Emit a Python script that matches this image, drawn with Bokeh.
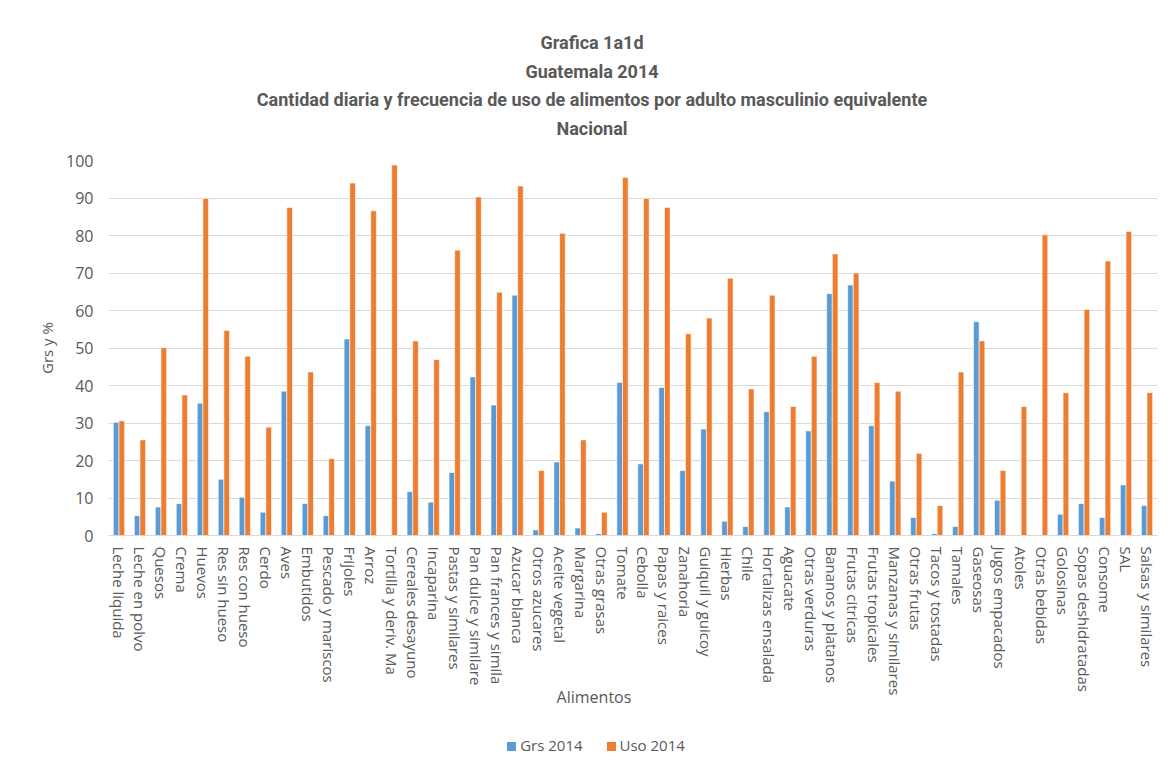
from bokeh.plotting import figure
from bokeh.layouts import column
from bokeh.models import ColumnDataSource, FactorRange, Range1d, FixedTicker, Div
from bokeh.transform import dodge
from bokeh.embed import file_html
from bokeh.resources import INLINE

# Alimentos del módulo de consumo, Guatemala 2014
alimentos = [
    "Leche liquida", "Leche en polvo", "Quesos", "Crema", "Huevos",
    "Res sin hueso", "Res con hueso", "Cerdo", "Aves", "Embutidos",
    "Pescado y mariscos", "Frijoles", "Arroz", "Tortilla y deriv. Ma",
    "Cereales desayuno", "Incaparina", "Pastas y similares",
    "Pan dulce y similare", "Pan frances y simila", "Azucar blanca",
    "Otros azucares", "Aceite vegetal", "Margarina", "Otras grasas",
    "Tomate", "Cebolla", "Papas y raices", "Zanahoria", "Guiquil y guicoy",
    "Hierbas", "Chile", "Hortalizas ensalada", "Aguacate", "Otras verduras",
    "Bananos y platanos", "Frutas citricas", "Frutas tropicales",
    "Manzanas y similares", "Otras frutas", "Tacos y tostadas", "Tamales",
    "Gaseosas", "Jugos empacados", "Atoles", "Otras bebidas", "Golosinas",
    "Sopas deshidratadas", "Consome", "SAL", "Salsas y similares",
]

# Gramos diarios por adulto masculino equivalente
grs_2014 = [
    30.2, 5.3, 7.6, 8.5, 35.3, 15.0, 10.2, 6.2, 38.5, 8.5,
    5.3, 52.4, 29.3, 0.0, 11.7, 8.9, 16.8, 42.3, 34.8, 64.1,
    1.5, 19.6, 2.0, 0.5, 40.8, 19.1, 39.5, 17.3, 28.4, 3.8,
    2.4, 33.0, 7.6, 27.9, 64.5, 66.8, 29.3, 14.5, 4.8, 0.5,
    2.4, 57.0, 9.4, 0.0, 0.0, 5.7, 8.5, 4.8, 13.5, 8.0,
]

# Porcentaje de hogares que usan el alimento
uso_2014 = [
    30.6, 25.5, 50.1, 37.5, 89.9, 54.7, 47.8, 28.9, 87.5, 43.6,
    20.5, 94.0, 86.6, 98.8, 51.9, 46.9, 76.1, 90.3, 64.9, 93.2,
    17.3, 80.6, 25.5, 6.2, 95.5, 89.9, 87.5, 53.8, 58.0, 68.6,
    39.1, 64.1, 34.4, 47.8, 75.1, 70.0, 40.8, 38.5, 21.9, 8.0,
    43.6, 51.9, 17.3, 34.4, 80.2, 38.1, 60.3, 73.2, 81.1, 38.1,
]

series = ["Grs 2014", "Uso 2014"]
y_ticks = [0, 10, 20, 30, 40, 50, 60, 70, 80, 90, 100]

titulo = [
    "Grafica 1a1d",
    "Guatemala 2014",
    "Cantidad diaria y frecuencia de uso de alimentos por adulto masculinio equivalente",
    "Nacional",
]
eje_x = "Alimentos"
eje_y = "Grs y %"

AZUL = "#5B9BD5"
NARANJA = "#ED7D31"
GRIS = "#595959"
TEXT_FONT = "Open Sans"
TITLE_FONT = "Roboto"
W = 1171

src = ColumnDataSource(dict(alimento=alimentos, grs=grs_2014, uso=uso_2014))

# ---- title block -------------------------------------------------------
title_html = (
    f"<div style='width:{W}px;box-sizing:border-box;padding:29px 0 0 13px;"
    f"text-align:center;font-family:{TITLE_FONT};font-weight:bold;"
    f"font-size:18px;line-height:28.5px;color:{GRIS};white-space:nowrap;'>"
    + "<br>".join(titulo) + "</div>"
)
header = Div(text=title_html, width=W, height=150, margin=(0, 0, 0, 0))

# ---- chart -------------------------------------------------------------
p = figure(
    width=W, height=548,
    x_range=FactorRange(*alimentos), y_range=Range1d(0, 100),
    output_backend="svg", toolbar_location=None,
    min_border_left=108, min_border_right=14,
    min_border_top=10, min_border_bottom=162,
    margin=(0, 0, 0, 0),
)
p.outline_line_color = None
p.background_fill_color = "white"
p.border_fill_color = "white"

p.vbar(x=dodge("alimento", -0.135, range=p.x_range), top="grs",
       width=0.27, source=src, fill_color=AZUL,
       line_color="white", line_width=0.6)
p.vbar(x=dodge("alimento", 0.135, range=p.x_range), top="uso",
       width=0.27, source=src, fill_color=NARANJA,
       line_color="white", line_width=0.6)

p.xgrid.grid_line_color = None
p.ygrid.grid_line_color = "#D9D9D9"
p.ygrid.grid_line_width = 1

p.yaxis.ticker = FixedTicker(ticks=y_ticks)
p.yaxis.axis_line_color = None
p.yaxis.major_tick_line_color = None
p.yaxis.minor_tick_line_color = None
p.yaxis.major_tick_out = 0
p.yaxis.major_tick_in = 0
p.yaxis.major_label_standoff = 15
p.yaxis.major_label_text_font = TEXT_FONT
p.yaxis.major_label_text_font_size = "16px"
p.yaxis.major_label_text_color = GRIS
p.yaxis.axis_label = eje_y
p.yaxis.axis_label_text_font = TEXT_FONT
p.yaxis.axis_label_text_font_style = "normal"
p.yaxis.axis_label_text_font_size = "15px"
p.yaxis.axis_label_text_color = GRIS
p.yaxis.axis_label_standoff = 6

p.xaxis.axis_line_color = "#D9D9D9"
p.xaxis.major_tick_line_color = None
p.xaxis.minor_tick_line_color = None
p.xaxis.major_tick_out = 0
p.xaxis.major_tick_in = 0
p.xaxis.major_label_standoff = 11
p.xaxis.major_label_orientation = "vertical"
p.xaxis.major_label_text_font = TEXT_FONT
p.xaxis.major_label_text_font_size = "15px"
p.xaxis.major_label_text_color = GRIS

# ---- axis title and legend ---------------------------------------------
def swatch(color, label):
    return (
        f"<span style='display:inline-block;width:9px;height:9px;"
        f"background:{color};margin-right:4px;vertical-align:0px;'></span>"
        f"<span>{label}</span>"
    )

footer_html = (
    f"<div style='width:{W}px;box-sizing:border-box;padding-left:17px;"
    f"margin-top:-12px;text-align:center;font-family:{TEXT_FONT};"
    f"font-size:16px;line-height:22px;color:{GRIS};'>{eje_x}</div>"
    f"<div style='width:{W}px;box-sizing:border-box;padding-left:21px;"
    f"margin-top:26px;text-align:center;font-family:{TEXT_FONT};"
    f"font-size:15px;line-height:22px;color:{GRIS};white-space:nowrap;'>"
    + swatch(AZUL, series[0])
    + "<span style='display:inline-block;width:24px;'></span>"
    + swatch(NARANJA, series[1])
    + "</div>"
)
footer = Div(text=footer_html, width=W, height=76, margin=(0, 0, 0, 0))

layout = column(header, p, footer, spacing=0, margin=(0, 0, 0, 0))

open("out.html", "w").write(file_html(layout, INLINE))
